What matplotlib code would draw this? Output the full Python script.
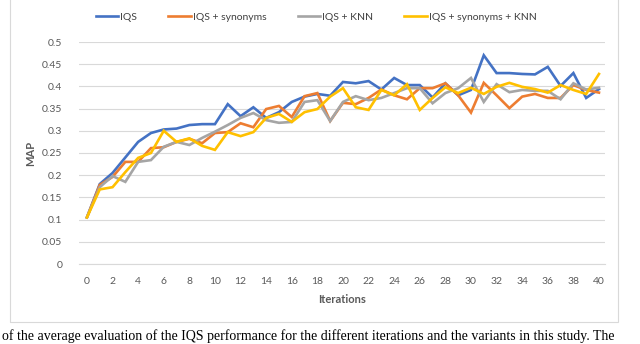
import matplotlib
matplotlib.use("Agg")
import matplotlib.pyplot as plt
from matplotlib.patches import Rectangle

iterations = list(range(0, 41))
iqs = [0.105, 0.180, 0.205, 0.240, 0.275, 0.295, 0.303, 0.305, 0.313, 0.315,
       0.315, 0.360, 0.333, 0.353, 0.329, 0.342, 0.365, 0.377, 0.383, 0.379,
       0.410, 0.407, 0.412, 0.393, 0.419, 0.403, 0.403, 0.375, 0.407, 0.380,
       0.392, 0.470, 0.430, 0.430, 0.428, 0.427, 0.444, 0.401, 0.430, 0.374,
       0.394]
iqs_syn = [0.105, 0.178, 0.196, 0.230, 0.230, 0.261, 0.263, 0.275, 0.282, 0.272,
           0.295, 0.297, 0.317, 0.308, 0.349, 0.356, 0.331, 0.378, 0.385, 0.322,
           0.363, 0.360, 0.374, 0.393, 0.380, 0.371, 0.396, 0.396, 0.407, 0.380,
           0.341, 0.408, 0.380, 0.351, 0.377, 0.383, 0.374, 0.374, 0.403, 0.392,
           0.386]
iqs_knn = [0.105, 0.173, 0.198, 0.185, 0.230, 0.234, 0.264, 0.275, 0.268, 0.284,
           0.298, 0.313, 0.329, 0.340, 0.324, 0.318, 0.320, 0.365, 0.369, 0.322,
           0.365, 0.378, 0.369, 0.374, 0.385, 0.396, 0.396, 0.362, 0.385, 0.396,
           0.419, 0.365, 0.405, 0.387, 0.392, 0.390, 0.390, 0.371, 0.407, 0.393,
           0.397]
iqs_syn_knn = [0.105, 0.168, 0.173, 0.207, 0.239, 0.250, 0.300, 0.275, 0.283, 0.266,
               0.257, 0.297, 0.288, 0.297, 0.329, 0.338, 0.320, 0.342, 0.349, 0.377,
               0.396, 0.353, 0.347, 0.392, 0.380, 0.405, 0.347, 0.374, 0.398, 0.385,
               0.397, 0.383, 0.399, 0.408, 0.399, 0.394, 0.386, 0.403, 0.392, 0.383,
               0.428]
series_names = ["IQS", "IQS + synonyms", "IQS + KNN", "IQS + synonyms + KNN"]
colors = ["#4472C4", "#ED7D31", "#A5A5A5", "#FFC000"]
yticks = [0, 0.05, 0.1, 0.15, 0.2, 0.25, 0.3, 0.35, 0.4, 0.45, 0.5]
ytick_labels = ["0", "0.05", "0.1", "0.15", "0.2", "0.25", "0.3", "0.35", "0.4", "0.45", "0.5"]
xticks = list(range(0, 41, 2))
caption = ("of the average evaluation of the IQS performance for the different "
           "iterations and the variants in this study. The")

plt.rcParams['font.family'] = ['Lato', 'DejaVu Sans']
W, H = 640, 344
fig = plt.figure(figsize=(6.4, 3.44), dpi=100)

# outer chart frame
fig.patches.append(Rectangle((10 / W, 1 - 322 / H), 608 / W, 330 / H,
                             transform=fig.transFigure, fill=False,
                             edgecolor="#D9D9D9", linewidth=0.8))

ax = fig.add_axes([79 / W, 1 - 264 / H, (605 - 79) / W, (264 - 42) / H])
for name, vals, c in zip(series_names, [iqs, iqs_syn, iqs_knn, iqs_syn_knn], colors):
    ax.plot(iterations, vals, color=c, linewidth=1.9, label=name,
            solid_joinstyle="miter", zorder=3)

ax.set_xlim(-0.62, 40.47)
ax.set_ylim(0, 0.5)
ax.set_yticks(yticks)
ax.set_yticklabels(ytick_labels)
ax.set_xticks(xticks)
ax.grid(axis="y", color="#D9D9D9", linewidth=0.8)
ax.set_axisbelow(True)
for s in ["top", "right", "left"]:
    ax.spines[s].set_visible(False)
ax.spines["bottom"].set_color("#D9D9D9")
ax.spines["bottom"].set_linewidth(0.8)
ax.tick_params(axis="both", length=0, colors="#595959", labelsize=7.5)
ax.tick_params(axis="y", pad=12)
ax.tick_params(axis="x", pad=9)

ax.set_xlabel("Iterations", fontsize=8, fontweight="bold", color="#595959", labelpad=6)
ax.set_ylabel("MAP", fontsize=8, fontweight="bold", color="#595959", labelpad=4)

fig.legend(loc="center", bbox_to_anchor=(316 / W, 1 - 17 / H), ncol=4,
           frameon=False, fontsize=7.5, handlelength=2.2, handletextpad=0.15,
           columnspacing=3.0, labelcolor="#404040")

# caption line below the chart
fig.text(2 / W, 1 - 340 / H, caption,
         fontsize=10, family=["Liberation Serif", "DejaVu Serif"], color="#000000",
         ha="left", va="baseline")

fig.savefig("out.png", dpi=100)
